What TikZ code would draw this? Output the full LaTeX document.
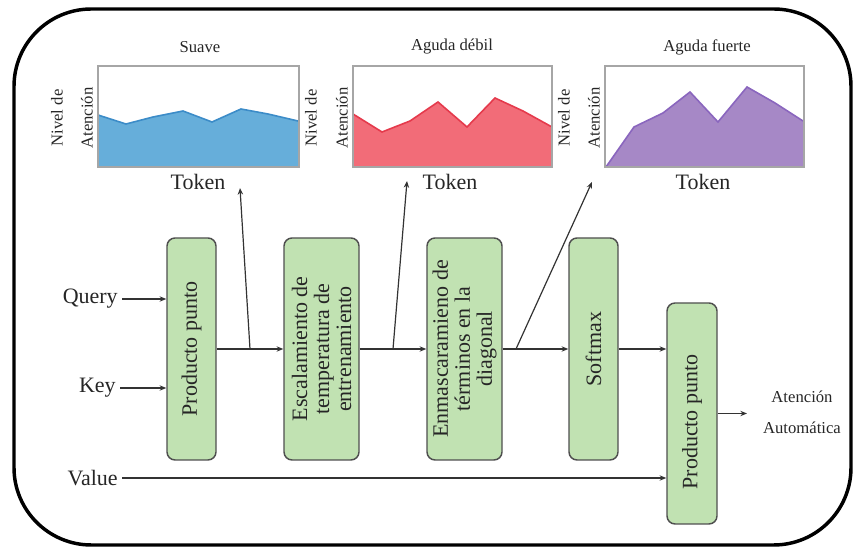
\documentclass[tikz,border=0pt]{standalone}
\usepackage{fontspec}
\setmainfont{Liberation Serif}
\usetikzlibrary{arrows.meta}

\definecolor{stagefill}{HTML}{C1E2B2}
\definecolor{stageedge}{HTML}{4F4F4F}
\definecolor{ink}{HTML}{262626}
\definecolor{wire}{HTML}{333333}
\definecolor{framegray}{HTML}{A6A6A6}
\definecolor{softfill}{HTML}{66AEDA}
\definecolor{softedge}{HTML}{3C8CC8}
\definecolor{weakfill}{HTML}{F26C78}
\definecolor{weakedge}{HTML}{E53A4C}
\definecolor{strongfill}{HTML}{A688C6}
\definecolor{strongedge}{HTML}{8A66BE}

\begin{document}
\begin{tikzpicture}[x=0.75pt,y=-0.75pt,
  stage/.style={draw=stageedge, line width=1.1pt, fill=stagefill,
    rounded corners=6pt, inner sep=0pt, minimum height=166.5pt},
  stagetext/.style={rotate=90, align=center, text=ink,
    font=\fontsize{16.5}{16.5}\selectfont},
  io/.style={text=ink, font=\fontsize{16.5}{18}\selectfont, inner sep=3pt},
  small/.style={text=ink, font=\fontsize{12.5}{14}\selectfont, inner sep=0pt},
  axis/.style={small, rotate=90},
  token/.style={text=ink, font=\fontsize{16.5}{18}\selectfont, inner sep=0pt},
  arr/.style={draw=wire, line width=0.9pt, -{Stealth[length=5pt,width=4pt]}},
  wireline/.style={draw=wire, line width=0.9pt},
  plotframe/.style={draw=framegray, line width=1.1pt}
]
\useasboundingbox (0,0) rectangle (858,548);

% outer frame
\draw[line width=2.6pt, rounded corners=58pt] (14,9) rectangle (851,545);

% ---- attention-level charts ----
% soft
\fill[softfill] (98,167) -- (98,115) -- (126,124) -- (153,117) -- (183,111) -- (212,122)
  -- (241,109) -- (268,114) -- (298,121) -- (298,167) -- cycle;
\draw[softedge, line width=1.2pt] (98,115) -- (126,124) -- (153,117) -- (183,111) -- (212,122)
  -- (241,109) -- (268,114) -- (298,121);
\draw[plotframe] (98,66) rectangle (299,167);
% weak sharp
\fill[weakfill] (353,167) -- (353,114) -- (382,132) -- (410,121) -- (438,102) -- (467,127)
  -- (495,98) -- (523,111) -- (552,127) -- (552,167) -- cycle;
\draw[weakedge, line width=1.2pt] (353,114) -- (382,132) -- (410,121) -- (438,102) -- (467,127)
  -- (495,98) -- (523,111) -- (552,127);
\draw[plotframe] (353,66) rectangle (552,167);
% strong sharp
\fill[strongfill] (606,167) -- (634,127) -- (663,113) -- (690,92) -- (718,122)
  -- (747,87) -- (775,103) -- (803,121) -- (803,167) -- cycle;
\draw[strongedge, line width=1.2pt] (606,167) -- (634,127) -- (663,113) -- (690,92) -- (718,122)
  -- (747,87) -- (775,103) -- (803,121);
\draw[plotframe] (605,66) rectangle (804,167);

% chart titles
\node[small] (tsoft) at (200,47) {Suave};
\node[small] (tweak) at (452,47) {Aguda débil};
\node[small] (tstrong) at (707,47) {Aguda fuerte};

% axis labels
\node[axis] (nv1) at (57,118) {Nivel de};
\node[axis] (at1) at (87,118) {Atención};
\node[axis] (nv2) at (311,118) {Nivel de};
\node[axis] (at2) at (342,118) {Atención};
\node[axis] (nv3) at (564,118) {Nivel de};
\node[axis] (at3) at (594,118) {Atención};

\node[token] (tok1) at (198,182) {Token};
\node[token] (tok2) at (450,182) {Token};
\node[token] (tok3) at (703,182) {Token};

% ---- processing stages ----
\node[stage, minimum width=36.75pt] (dot1) at (191.5,349) {};
\node[stagetext] at (dot1.center) {Producto punto};
\node[stage, minimum width=56.25pt] (scale) at (321.5,349) {};
\node[stagetext] at (scale.center) {Escalamiento de\\temperatura de\\entrenamiento};
\node[stage, minimum width=56.25pt] (mask) at (464.5,349) {};
\node[stagetext] at (mask.center) {Enmascaramieno de\\términos en la\\diagonal};
\node[stage, minimum width=36.75pt] (soft) at (593.5,349) {};
\node[stagetext] at (soft.center) {Softmax};
\node[stage, minimum width=37.5pt, minimum height=165.75pt] (dot2) at (692,413.5) {};
\node[stagetext] at (692,422) {Producto punto};

% inputs
\node[io, anchor=east] (query) at (122,299) {Query};
\node[io, anchor=east] (key) at (120,388) {Key};
\node[io, anchor=east] (value) at (122,478) {Value};

\draw[arr] (query.east) -- (query.east -| dot1.west);
\draw[arr] (key.east) -- (key.east -| dot1.west);
\draw[arr] (value.east) -- (value.east -| dot2.west);

% main chain
\draw[arr] (dot1.east) -- (scale.west);
\draw[arr] (scale.east) -- (mask.west);
\draw[arr] (mask.east) -- (soft.west);
\draw[arr] (soft.east) -- (soft.east -| dot2.west);

% taps to the charts
\coordinate (tap1) at (250,349);
\coordinate (tip1) at (240,188);
\coordinate (tap2) at (393,349);
\coordinate (tip2) at (407,181);
\coordinate (tap3) at (516,349);
\coordinate (tip3) at (592,182);
\draw[arr] (tap1) -- (tip1);
\draw[arr] (tap2) -- (tip2);
\draw[arr] (tap3) -- (tip3);

% output
\coordinate (outtip) at (747,413.5);
\draw[arr] (dot2.east) -- (outtip);
\node[small] (out1) at (802,397) {Atención};
\node[small] (out2) at (802,428) {Automática};
\end{tikzpicture}
\end{document}
